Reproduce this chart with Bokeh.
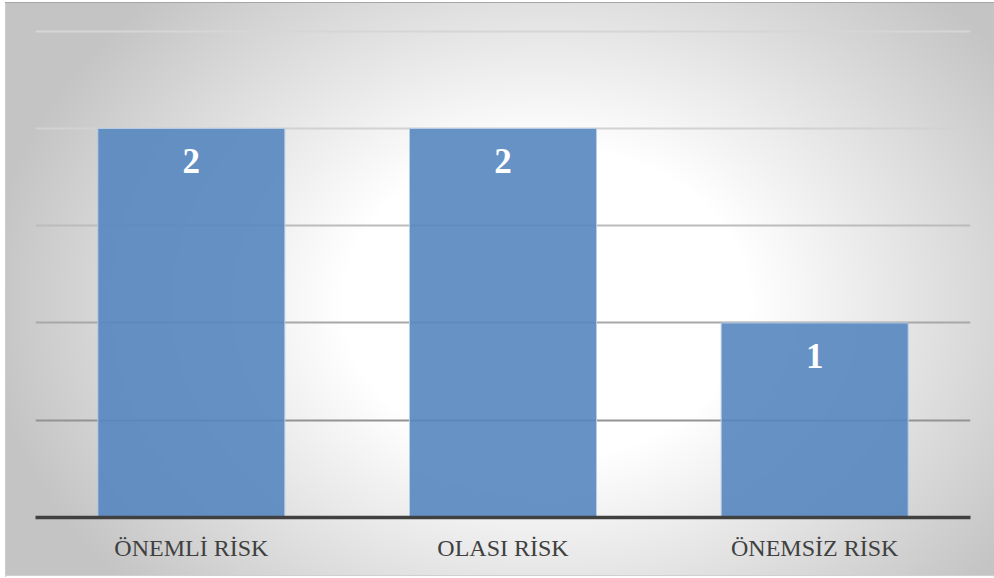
from bokeh.plotting import figure
from bokeh.models import FactorRange, Range1d
from bokeh.core.properties import value
from bokeh.embed import file_html
from bokeh.resources import INLINE

# Risk categories and their counts
categories = ["ÖNEMLİ RİSK", "OLASI RİSK", "ÖNEMSİZ RİSK"]
counts = [2, 2, 1]
count_labels = ["2", "2", "1"]

# Horizontal guide levels (darker toward the baseline)
grid_levels = [0.5, 1.0, 1.5, 2.0, 2.5]
grid_colors = ["#939393", "#a8a8a8", "#bcbcbc", "#d2d2d2", "#d6d6d6"]

SERIF = "Liberation Serif"

W, H = 994, 578

p = figure(
    width=W, height=H,
    x_range=FactorRange(*categories, range_padding=0),
    y_range=Range1d(0, 2.56),
    output_backend="svg", toolbar_location=None,
    min_border_left=35, min_border_right=24,
    min_border_top=19, min_border_bottom=61,
)

# Transparent canvas; the soft radial backdrop and thin frame come from CSS
p.background_fill_alpha = 0
p.border_fill_alpha = 0
p.outline_line_color = None
p.styles = {
    "background": (
        "linear-gradient(#a6a6a6,#a6a6a6) 5px 2px / 989px 1px no-repeat,"
        "linear-gradient(#cccccc,#cccccc) 5px 2px / 1px 575px no-repeat,"
        "linear-gradient(#d0d0d0,#d0d0d0) 5px 575px / 989px 1px no-repeat,"
        "radial-gradient(ellipse 560px 430px at 540px 300px, #ffffff 0%, #ffffff 36%, #c4c4c4 100%) 6px 3px / 988px 572px no-repeat,"
        "#ffffff"
    )
}

p.xgrid.visible = False
p.ygrid.visible = False
p.yaxis.visible = False

p.hspan(y=grid_levels, line_color=grid_colors, line_width=2)

p.vbar(x=categories, top=counts, width=0.6, bottom=0,
       fill_color="#5686c0", fill_alpha=0.9,
       line_color="#b8cde6", line_width=1)

p.text(x=categories, y=counts, text=count_labels,
       text_font=value(SERIF), text_font_style="bold",
       text_font_size="35px", text_color="#ffffff",
       text_align="center", text_baseline="middle", y_offset=33)

ax = p.xaxis[0]
ax.axis_line_color = "#404040"
ax.axis_line_width = 3.5
ax.major_tick_line_color = None
ax.minor_tick_line_color = None
ax.major_label_text_font = SERIF
ax.major_label_text_font_size = "24px"
ax.major_label_text_color = "#404040"
ax.major_label_standoff = 11

open("out.html", "w").write(file_html(p, INLINE))
